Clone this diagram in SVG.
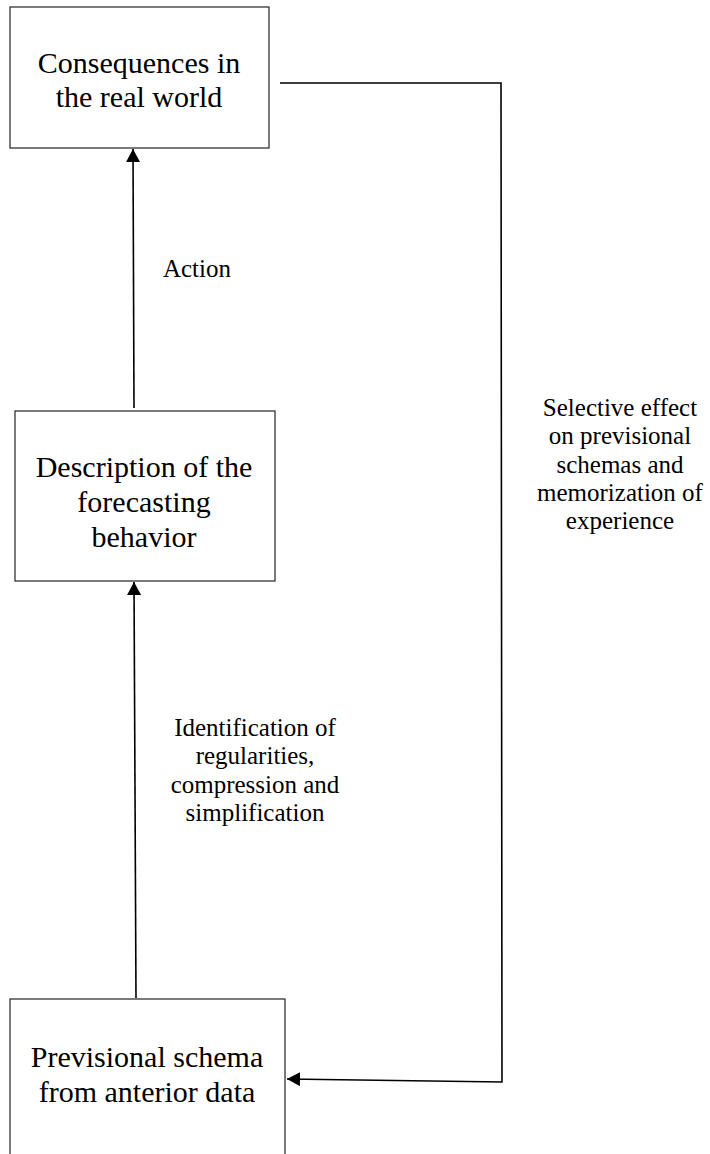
<svg xmlns="http://www.w3.org/2000/svg" width="710" height="1154" viewBox="0 0 710 1154">
<style>
.box{fill:#fff;stroke:#222;stroke-width:1.2}
.nt{font-family:"Liberation Serif","Times New Roman",serif;font-size:30px;fill:#000;text-anchor:middle}
.lt{font-family:"Liberation Serif","Times New Roman",serif;font-size:25px;fill:#000;text-anchor:middle}
.cn{fill:none;stroke:#000;stroke-width:1.6}
</style>
<defs>
<marker id="ah" viewBox="0 0 13 14" refX="13" refY="7" markerWidth="13" markerHeight="14" markerUnits="userSpaceOnUse" orient="auto">
<path d="M0,0 L13,7 L0,14 Z" fill="#000"/>
</marker>
</defs>
<rect width="710" height="1154" fill="#fff"/>
<g id="connectors">
<line class="cn" x1="134" y1="408" x2="133" y2="149" marker-end="url(#ah)"/>
<line class="cn" x1="136" y1="998" x2="134" y2="582" marker-end="url(#ah)"/>
<polyline class="cn" points="280,83 501,83 502,1082 287,1079" marker-end="url(#ah)"/>
</g>
<g id="label-action"><text class="lt" x="197" y="277">Action</text></g>
<g id="label-identification">
<text class="lt" x="255" y="736">Identification of</text>
<text class="lt" x="255" y="764">regularities,</text>
<text class="lt" x="255" y="793">compression and</text>
<text class="lt" x="255" y="821">simplification</text>
</g>
<g id="label-selective">
<text class="lt" x="620" y="416">Selective effect</text>
<text class="lt" x="620" y="444">on previsional</text>
<text class="lt" x="620" y="473">schemas and</text>
<text class="lt" x="620" y="501">memorization of</text>
<text class="lt" x="620" y="529">experience</text>
</g>
<g id="node-consequences">
<rect class="box" x="10" y="7" width="259" height="141"/>
<text class="nt" x="139" y="73">Consequences in</text>
<text class="nt" x="139" y="107">the real world</text>
</g>
<g id="node-description">
<rect class="box" x="15" y="411" width="260" height="170"/>
<text class="nt" x="144" y="477">Description of the</text>
<text class="nt" x="144" y="512">forecasting</text>
<text class="nt" x="144" y="547">behavior</text>
</g>
<g id="node-previsional">
<rect class="box" x="10" y="999" width="275" height="170"/>
<text class="nt" x="147" y="1067">Previsional schema</text>
<text class="nt" x="147" y="1102">from anterior data</text>
</g>
</svg>
